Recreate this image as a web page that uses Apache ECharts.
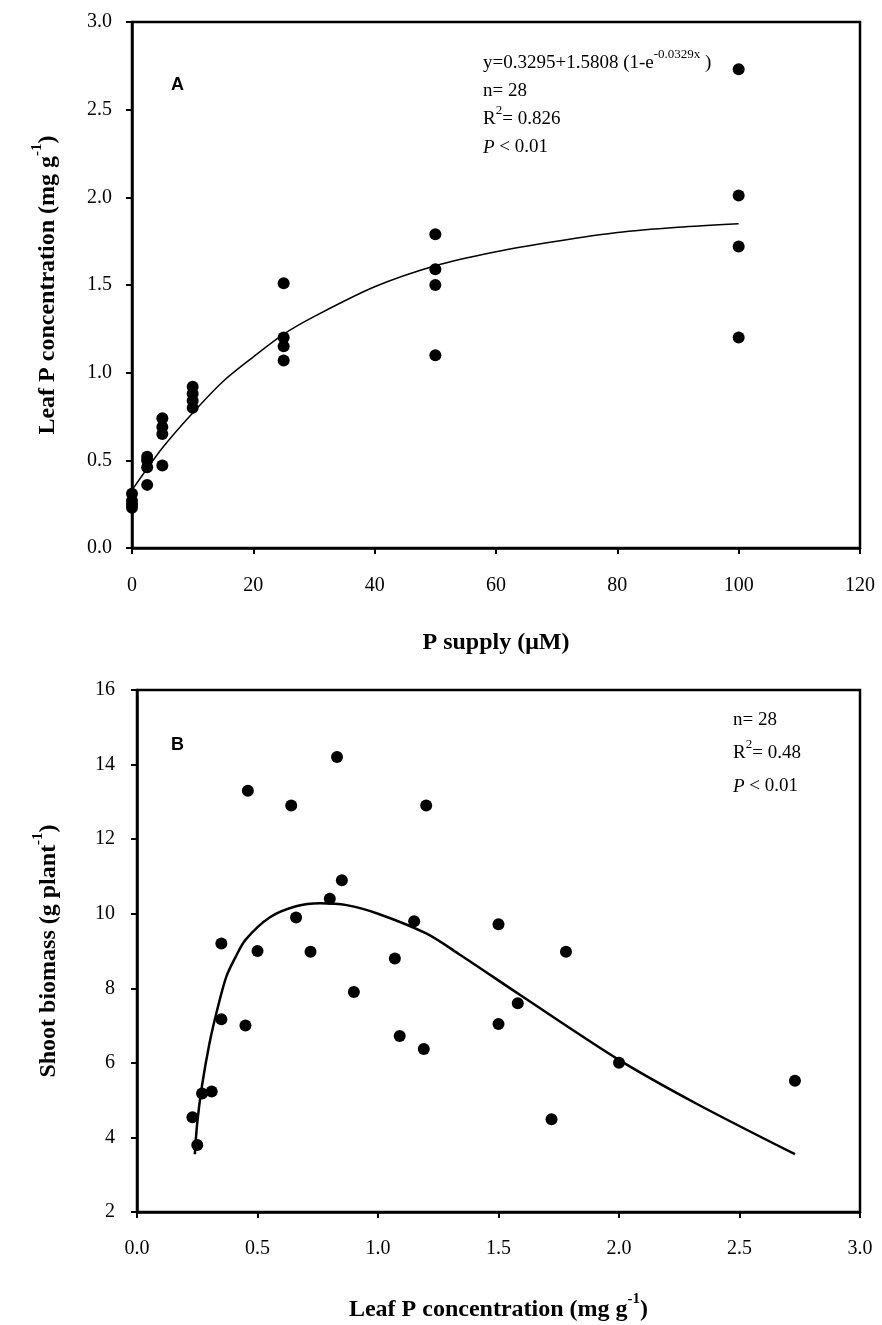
<!DOCTYPE html>
<html>
<head>
<meta charset="utf-8">
<script src="https://cdn.jsdelivr.net/npm/echarts@6/dist/echarts.min.js"></script>
<style>
  html, body { margin: 0; padding: 0; background: #fff; }
  #chart { width: 882px; height: 1325px; }
</style>
</head>
<body>
<div id="chart"></div>
<script>
// panel A: P supply (uM) vs leaf P concentration
const supplyA = [0, 0, 0, 0, 2.5, 2.5, 2.5, 2.5, 5, 5, 5, 5, 10, 10, 10, 10, 25, 25, 25, 25, 50, 50, 50, 50, 100, 100, 100, 100]
const leafPA = [0.23, 0.25, 0.27, 0.31, 0.36, 0.46, 0.50, 0.52, 0.47, 0.65, 0.69, 0.74, 0.80, 0.84, 0.88, 0.92, 1.07, 1.15, 1.20, 1.51, 1.10, 1.50, 1.59, 1.79, 1.20, 1.72, 2.01, 2.73]
// fitted curve
const fitSupplyA = [0, 5, 10, 15, 20, 25, 30, 40, 50, 60, 70, 80, 90, 100]
const fitLeafPA = [0.33, 0.57, 0.77, 0.95, 1.09, 1.22, 1.32, 1.49, 1.61, 1.69, 1.75, 1.80, 1.83, 1.85]

// panel B: leaf P concentration vs shoot biomass
const leafPB = [0.83, 0.46, 0.64, 1.20, 0.85, 0.80, 0.66, 1.15, 0.35, 0.50, 0.72, 1.07, 0.90, 0.35, 0.45, 1.09, 1.19, 0.31, 0.27, 0.23, 0.25, 1.50, 1.78, 1.58, 1.50, 2.00, 2.73, 1.72]
const biomassB = [14.2, 13.3, 12.9, 12.9, 10.9, 10.4, 9.9, 9.8, 9.2, 9.0, 8.98, 8.8, 7.9, 7.17, 7.0, 6.72, 6.37, 5.23, 5.18, 4.54, 3.8, 9.72, 8.98, 7.6, 7.04, 6.0, 5.52, 4.49]
const fitLeafPB = [0.24, 0.25, 0.27, 0.30, 0.33, 0.37, 0.41, 0.45, 0.55, 0.66, 0.76, 0.87, 1.0, 1.2, 1.34, 1.59, 2.0, 2.32, 2.73]
const fitBiomassB = [3.55, 4.4, 5.4, 6.5, 7.35, 8.3, 8.85, 9.3, 9.9, 10.2, 10.28, 10.23, 10.0, 9.47, 8.9, 7.82, 6.08, 4.91, 3.55]

const serif = 'Liberation Serif'
const zip = (xs, ys) => xs.map((x, i) => [x, ys[i]])

const chart = echarts.init(document.getElementById('chart'))

const axisCommon = {
  axisLine: { onZero: false, lineStyle: { color: '#000', width: 2.5 } },
  axisTick: { inside: false, length: 6, lineStyle: { color: '#000', width: 2 } },
  splitLine: { show: false },
  nameLocation: 'middle',
}
const labelStyle = { fontFamily: serif, fontSize: 20, color: '#000' }
const nameRich = {
  b: { fontFamily: serif, fontWeight: 'bold', fontSize: 24, color: '#000', lineHeight: 30, verticalAlign: 'bottom' },
  s: { fontFamily: serif, fontWeight: 'bold', fontSize: 15, color: '#000', lineHeight: 14, verticalAlign: 'top' }
}
// rich styles for the annotation blocks, lh = line spacing
function noteRich (lh) {
  return {
    n: { fontFamily: serif, fontSize: 19, color: '#000', lineHeight: lh, verticalAlign: 'bottom' },
    i: { fontFamily: serif, fontSize: 19, fontStyle: 'italic', color: '#000', lineHeight: lh, verticalAlign: 'bottom' },
    // superscript: bottom aligned like the base text, lifted by padding
    s: { fontFamily: serif, fontSize: 13, color: '#000', verticalAlign: 'bottom', padding: [0, 0, 12, 0] }
  }
}

const noteA = [
  '{n|y=0.3295+1.5808 (1-e}{s|-0.0329x}{n| )}',
  '{n|n= 28}',
  '{n|R}{s|2}{n|= 0.826}',
  '{i|P}{n| < 0.01}'
].join('\n')
const noteB = [
  '{n|n= 28}',
  '{n|R}{s|2}{n|= 0.48}',
  '{i|P}{n| < 0.01}'
].join('\n')

const option = {
  animation: false,
  backgroundColor: '#fff',
  grid: [
    { left: 132, right: 22, top: 22, height: 526, show: true, borderColor: '#000', borderWidth: 2.5 },
    { left: 137, right: 22, top: 690, height: 522, show: true, borderColor: '#000', borderWidth: 2.5 }
  ],
  xAxis: [
    {
      ...axisCommon, type: 'value', gridIndex: 0, min: 0, max: 120, interval: 20,
      axisLabel: { ...labelStyle, margin: 28 },
      name: 'P supply (μM)', nameGap: 83,
      nameTextStyle: { fontFamily: serif, fontWeight: 'bold', fontSize: 24, color: '#000' }
    },
    {
      ...axisCommon, type: 'value', gridIndex: 1, min: 0, max: 3, interval: 0.5,
      axisLabel: { ...labelStyle, margin: 27, formatter: v => v.toFixed(1) },
      name: '{b|Leaf P concentration (mg g}{s|-1}{b|)}', nameGap: 80,
      nameTextStyle: { rich: nameRich }
    }
  ],
  yAxis: [
    {
      ...axisCommon, type: 'value', gridIndex: 0, min: 0, max: 3, interval: 0.5,
      axisLabel: { ...labelStyle, margin: 20, formatter: v => v.toFixed(1) },
      name: '{b|Leaf P concentration (mg g}{s|-1}{b|)}', nameGap: 72,
      nameTextStyle: { rich: nameRich }
    },
    {
      ...axisCommon, type: 'value', gridIndex: 1, min: 2, max: 16, interval: 2,
      axisLabel: { ...labelStyle, margin: 22 },
      name: '{b|Shoot biomass (g plant}{s|-1}{b|)}', nameGap: 76,
      nameTextStyle: { rich: nameRich }
    }
  ],
  series: [
    {
      type: 'line', xAxisIndex: 0, yAxisIndex: 0, data: zip(fitSupplyA, fitLeafPA),
      smooth: 0.3, showSymbol: false, lineStyle: { color: '#000', width: 1.5 }, z: 2
    },
    {
      type: 'scatter', xAxisIndex: 0, yAxisIndex: 0, data: zip(supplyA, leafPA),
      symbol: 'circle', symbolSize: 12, itemStyle: { color: '#000', opacity: 1 }, z: 3
    },
    {
      type: 'line', xAxisIndex: 1, yAxisIndex: 1, data: zip(fitLeafPB, fitBiomassB),
      smooth: 0.3, showSymbol: false, lineStyle: { color: '#000', width: 2.5 }, z: 2
    },
    {
      type: 'scatter', xAxisIndex: 1, yAxisIndex: 1, data: zip(leafPB, biomassB),
      symbol: 'circle', symbolSize: 12, itemStyle: { color: '#000', opacity: 1 }, z: 3
    }
  ],
  graphic: [
    { type: 'text', left: 171, top: 76, style: { text: 'A', fontFamily: 'Liberation Sans', fontWeight: 'bold', fontSize: 18, fill: '#000' } },
    { type: 'text', left: 483, top: 48, style: { text: noteA, rich: noteRich(28) } },
    { type: 'text', left: 171, top: 736, style: { text: 'B', fontFamily: 'Liberation Sans', fontWeight: 'bold', fontSize: 18, fill: '#000' } },
    { type: 'text', left: 733, top: 711, style: { text: noteB, rich: noteRich(33) } }
  ]
}

chart.setOption(option)
</script>
</body>
</html>
